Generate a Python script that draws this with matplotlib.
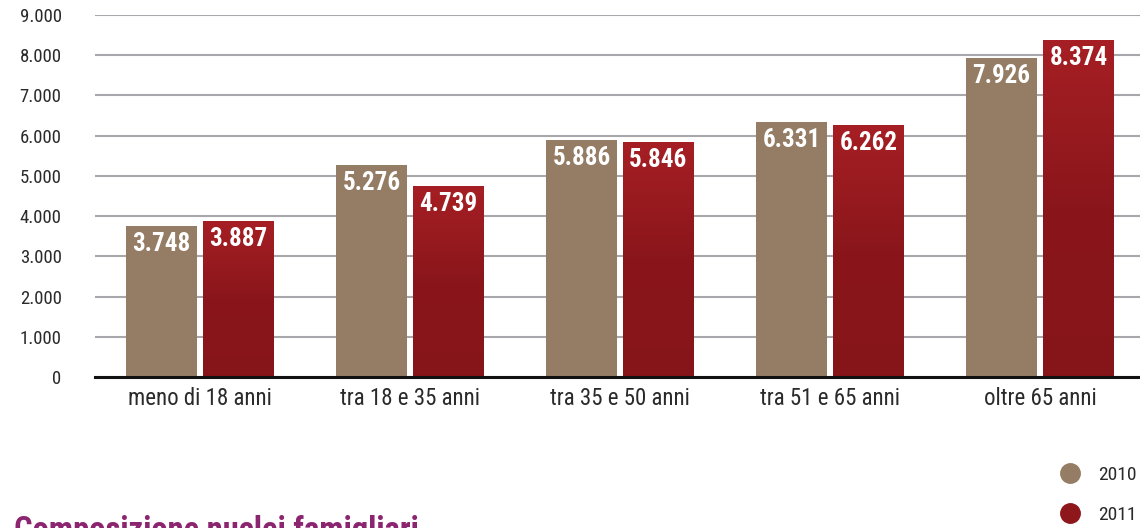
import matplotlib
matplotlib.use("Agg")
import matplotlib.pyplot as plt
import numpy as np
from matplotlib import font_manager
from matplotlib.colors import LinearSegmentedColormap
from matplotlib.lines import Line2D

# data
categories = ["meno di 18 anni", "tra 18 e 35 anni", "tra 35 e 50 anni",
              "tra 51 e 65 anni", "oltre 65 anni"]
values_2010 = [3748, 5276, 5886, 6331, 7926]
values_2011 = [3887, 4739, 5846, 6262, 8374]
series_labels = ["2010", "2011"]
y_ticks = [0, 1000, 2000, 3000, 4000, 5000, 6000, 7000, 8000, 9000]


def fmt_it(v):
    # Italian thousands separator
    return f"{v:,}".replace(",", ".")


# look for a narrow face; the source uses condensed type everywhere
fonts = font_manager.fontManager.ttflist
names = {f.name for f in fonts}
narrow = None
for cand in ["Roboto Condensed", "Liberation Sans Narrow", "Open Sans Condensed",
             "DejaVu Sans Condensed"]:
    if cand in names:
        narrow = dict(family=cand)
        break
if narrow is None:
    for f in fonts:
        if f.name in ("DejaVu Sans", "Roboto", "Open Sans", "Noto Sans") and "ondensed" in f.fname:
            narrow = dict(family=f.name, fontstretch="condensed")
            break
squeeze = 1.0
if narrow is None:
    narrow = dict(family="Liberation Sans")
    squeeze = 0.82

col_2010 = "#957C64"
col_2011 = "#8E171C"
red_grad = LinearSegmentedColormap.from_list("redgrad", ["#86151A", "#8A161B", "#A61F24"])

fig = plt.figure(figsize=(11.4, 5.28), dpi=100)
ax = fig.add_axes([95 / 1140, 151 / 528, 1050 / 1140, 362 / 528])

x = np.arange(len(categories))
w = 0.338
off = 0.183

bars10 = ax.bar(x - off, values_2010, width=w, color=col_2010, zorder=3)
bars11 = ax.bar(x + off, values_2011, width=w, color=col_2011, zorder=3)

# vertical gradient on the 2011 bars
grad = np.linspace(0, 1, 256).reshape(-1, 1)
for b in bars11:
    x0 = b.get_x()
    h = b.get_height()
    im = ax.imshow(grad, extent=[x0, x0 + b.get_width(), 0, h], origin="lower",
                   cmap=red_grad, aspect="auto", zorder=3.5)
    im.set_clip_path(b)

for b, v in zip(list(bars10) + list(bars11), values_2010 + values_2011):
    ax.text(b.get_x() + b.get_width() / 2, v - 150, fmt_it(v), fontweight="bold",
            fontsize=18 * squeeze, color="white", ha="center", va="top", zorder=5, **narrow)

ax.set_xlim(-0.5, 4.5)
ax.set_ylim(0, 9000)
ax.set_yticks(y_ticks)
ax.set_yticklabels([fmt_it(t) for t in y_ticks])
ax.set_xticks(x)
ax.set_xticklabels(categories)

ax.grid(axis="y", color="#A8A8AC", linewidth=1.5, zorder=0)
ax.set_axisbelow(True)
for s in ["top", "right", "left"]:
    ax.spines[s].set_visible(False)
ax.spines["bottom"].set_color("#111111")
ax.spines["bottom"].set_linewidth(2.2)
ax.spines["bottom"].set_zorder(6)
ax.tick_params(axis="both", length=0, labelcolor="#2a2a2a")
ax.tick_params(axis="y", pad=24)
ax.tick_params(axis="x", pad=7)
for lab in ax.get_xticklabels():
    lab.update(narrow)
    lab.set_fontsize(16.5 * squeeze)
for lab in ax.get_yticklabels():
    lab.update(narrow)
    lab.set_fontsize(13.5 * squeeze)

handles = [Line2D([], [], marker="o", linestyle="", markersize=14,
                  markerfacecolor=c, markeredgecolor=c) for c in (col_2010, col_2011)]
leg = fig.legend(handles, series_labels, loc="upper left", bbox_to_anchor=(1043 / 1140, 70 / 528),
                 frameon=False, prop={"size": 14 * squeeze},
                 labelspacing=1.15, handletextpad=0.45, borderaxespad=0, labelcolor="#2a2a2a")
for t in leg.get_texts():
    t.update(narrow)

# section title, cut off by the bottom edge as in the source page
fig.text(14 / 1140, 13 / 528, "Composizione nuclei famigliari", fontweight="bold",
         fontsize=23.5 * squeeze, color="#8B2570", ha="left", va="top", **narrow)

fig.savefig("out.png", dpi=100, facecolor="white")
